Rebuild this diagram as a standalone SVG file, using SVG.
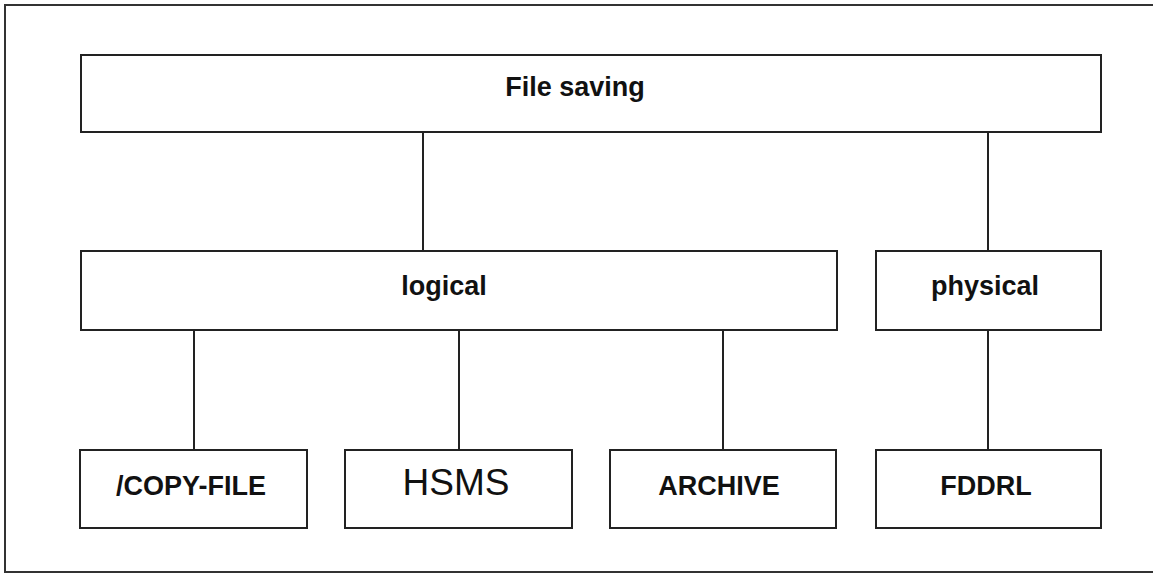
<svg xmlns="http://www.w3.org/2000/svg" width="1153" height="573" viewBox="0 0 1153 573">
<style>
.box{fill:#fff;stroke:#222;stroke-width:2}
.conn line{stroke:#222;stroke-width:2}
.t{font-family:"Liberation Sans",Arial,sans-serif;font-weight:bold;font-size:27px;fill:#111;text-anchor:middle}
.r{font-family:"Liberation Sans",Arial,sans-serif;font-size:37px;fill:#111;text-anchor:middle}
</style>
<rect width="1153" height="573" fill="#fff"/>
<path d="M1153 5 H5 V572 H1153" fill="none" stroke="#333" stroke-width="2"/>
<g class="conn">
<line x1="423" y1="132" x2="423" y2="251"/>
<line x1="988" y1="132" x2="988" y2="251"/>
<line x1="194" y1="330" x2="194" y2="450"/>
<line x1="459" y1="330" x2="459" y2="450"/>
<line x1="723" y1="330" x2="723" y2="450"/>
<line x1="988" y1="330" x2="988" y2="450"/>
</g>
<g id="file-saving"><rect class="box" x="81" y="55" width="1020" height="77"/><text class="t" x="575" y="96">File saving</text></g>
<g id="logical"><rect class="box" x="81" y="251" width="756" height="79"/><text class="t" x="444" y="295">logical</text></g>
<g id="physical"><rect class="box" x="876" y="251" width="225" height="79"/><text class="t" x="985" y="295">physical</text></g>
<g id="copy-file"><rect class="box" x="80" y="450" width="227" height="78"/><text class="t" x="191" y="495">/COPY-FILE</text></g>
<g id="hsms"><rect class="box" x="345" y="450" width="227" height="78"/><text class="r" x="456" y="495">HSMS</text></g>
<g id="archive"><rect class="box" x="610" y="450" width="226" height="78"/><text class="t" x="719" y="495">ARCHIVE</text></g>
<g id="fddrl"><rect class="box" x="876" y="450" width="225" height="78"/><text class="t" x="986" y="495">FDDRL</text></g>
</svg>
